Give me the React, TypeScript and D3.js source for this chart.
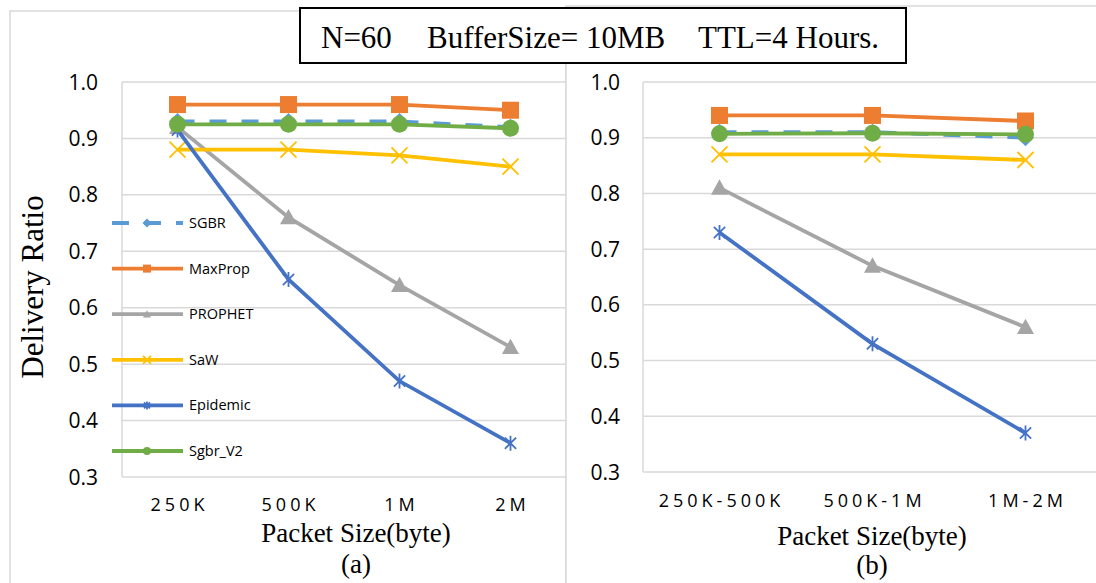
import React, { useEffect, useRef } from "react";
import * as d3 from "d3";

// categories
const catsA = ["250K", "500K", "1M", "2M"];
const catsB = ["250K-500K", "500K-1M", "1M-2M"];
const yTicks = [0.3, 0.4, 0.5, 0.6, 0.7, 0.8, 0.9, 1.0];
const seriesNames = ["SGBR", "MaxProp", "PROPHET", "SaW", "Epidemic", "Sgbr_V2"];

// panel (a) values
const sgbrA = [0.93, 0.93, 0.93, 0.92];
const maxPropA = [0.96, 0.96, 0.96, 0.95];
const prophetA = [0.92, 0.76, 0.64, 0.53];
const sawA = [0.88, 0.88, 0.87, 0.85];
const epidemicA = [0.915, 0.65, 0.47, 0.36];
const sgbrV2A = [0.925, 0.925, 0.925, 0.918];

// panel (b) values
const sgbrB = [0.91, 0.91, 0.9];
const maxPropB = [0.94, 0.94, 0.93];
const prophetB = [0.81, 0.67, 0.56];
const sawB = [0.87, 0.87, 0.86];
const epidemicB = [0.73, 0.53, 0.37];
const sgbrV2B = [0.907, 0.908, 0.906];

// styles per series (same order as seriesNames)
const colors = ["#5B9BD5", "#ED7D31", "#A5A5A5", "#FFC000", "#4472C4", "#70AD47"];
const markers = ["diamond", "square", "triangle", "x", "star", "circle"];

const GRID = "#d9d9d9";
const SANS = "'Open Sans', sans-serif";
const SERIF = "'Liberation Serif', 'Times New Roman', serif";
const LW = 3.8;

function drawMarker(g, type, x, y, color, s) {
  // s = marker size in px
  const h = s / 2;
  if (type === "square") {
    g.append("rect").attr("x", x - h).attr("y", y - h).attr("width", s).attr("height", s).attr("fill", color);
  } else if (type === "circle") {
    g.append("circle").attr("cx", x).attr("cy", y).attr("r", h).attr("fill", color);
  } else if (type === "triangle") {
    g.append("path").attr("d", `M${x},${y - h}L${x + h},${y + h * 0.8}L${x - h},${y + h * 0.8}Z`).attr("fill", color);
  } else if (type === "diamond") {
    g.append("path").attr("d", `M${x},${y - h}L${x + h},${y}L${x},${y + h}L${x - h},${y}Z`).attr("fill", color);
  } else if (type === "x") {
    g.append("path").attr("d", `M${x - h},${y - h}L${x + h},${y + h}M${x - h},${y + h}L${x + h},${y - h}`)
      .attr("stroke", color).attr("stroke-width", 1.8).attr("fill", "none");
  } else if (type === "star") {
    const k = h * 0.75;
    g.append("path").attr("d", `M${x - k},${y - k}L${x + k},${y + k}M${x - k},${y + k}L${x + k},${y - k}M${x},${y - h}L${x},${y + h}`)
      .attr("stroke", color).attr("stroke-width", 1.8).attr("fill", "none");
  }
}

function drawPanel(svg, cats, series, xRange, yRange, labelRight, tickBaseline) {
  const x = d3.scaleBand().domain(cats).range(xRange).paddingInner(0).paddingOuter(0);
  const y = d3.scaleLinear().domain([0.3, 1.0]).range(yRange);
  const cx = (c) => x(c) + x.bandwidth() / 2;
  const g = svg.append("g");

  // grid
  g.selectAll(".grid").data(yTicks).join("line")
    .attr("x1", xRange[0]).attr("x2", xRange[1])
    .attr("y1", (d) => y(d)).attr("y2", (d) => y(d))
    .attr("stroke", GRID).attr("stroke-width", 1.5);
  g.append("line").attr("x1", xRange[0]).attr("x2", xRange[0])
    .attr("y1", y(1.0)).attr("y2", y(0.3)).attr("stroke", GRID).attr("stroke-width", 1.5);

  // y tick labels
  g.selectAll(".ytl").data(yTicks).join("text")
    .attr("x", labelRight).attr("y", (d) => y(d) + 7.5)
    .attr("text-anchor", "end").attr("font-family", SANS).attr("font-size", 21).attr("fill", "#000")
    .text((d) => d3.format(".1f")(d));

  // x tick labels
  g.selectAll(".xtl").data(cats).join("text")
    .attr("x", (d) => cx(d) + 2).attr("y", tickBaseline)
    .attr("text-anchor", "middle").attr("font-family", SANS).attr("font-size", 18)
    .attr("letter-spacing", 4).attr("fill", "#000")
    .text((d) => d);

  const line = d3.line().x((d, i) => cx(cats[i])).y((d) => y(d));
  series.forEach((vals, si) => {
    const sg = g.append("g");
    sg.append("path").datum(vals).attr("d", line).attr("fill", "none")
      .attr("stroke", colors[si]).attr("stroke-width", LW)
      .attr("stroke-dasharray", si === 0 ? "17 15" : null);
    vals.forEach((v, i) => {
      const size = markers[si] === "x" ? 16 : markers[si] === "star" ? 15 : 17;
      drawMarker(sg, markers[si], cx(cats[i]), y(v), colors[si], size);
    });
  });
}

export default function App() {
  const ref = useRef(null);

  useEffect(() => {
    const svg = d3.select(ref.current);
    svg.selectAll("*").remove();

    // panel frames
    svg.append("rect").attr("x", 10).attr("y", 11).attr("width", 556).attr("height", 600)
      .attr("fill", "#fff").attr("stroke", GRID).attr("stroke-width", 1.5);
    svg.append("rect").attr("x", 566).attr("y", 6).attr("width", 540).attr("height", 600)
      .attr("fill", "#fff").attr("stroke", GRID).attr("stroke-width", 1.5);

    drawPanel(svg, catsA, [sgbrA, maxPropA, prophetA, sawA, epidemicA, sgbrV2A], [122, 566], [477, 82], 98, 511);
    drawPanel(svg, catsB, [sgbrB, maxPropB, prophetB, sawB, epidemicB, sgbrV2B], [643, 1102], [472, 82], 620, 507);

    // legend inside panel (a)
    const lg = svg.append("g");
    seriesNames.forEach((name, i) => {
      const ly = 223 + i * 45.6;
      lg.append("line").attr("x1", 112).attr("x2", 183).attr("y1", ly).attr("y2", ly)
        .attr("stroke", colors[i]).attr("stroke-width", LW)
        .attr("stroke-dasharray", i === 0 ? "17 15" : null);
      drawMarker(lg, markers[i], 147, ly, colors[i], markers[i] === "diamond" ? 9 : 8);
      lg.append("text").attr("x", 189).attr("y", ly + 5).attr("font-family", SANS)
        .attr("font-size", 14.5).attr("fill", "#000").text(name);
    });

    // axis titles
    svg.append("text").attr("transform", "translate(43,287) rotate(-90)")
      .attr("text-anchor", "middle").attr("font-family", SERIF).attr("font-size", 31).text("Delivery Ratio");
    svg.append("text").attr("x", 356).attr("y", 542).attr("text-anchor", "middle")
      .attr("font-family", SERIF).attr("font-size", 27).text("Packet Size(byte)");
    svg.append("text").attr("x", 356).attr("y", 573).attr("text-anchor", "middle")
      .attr("font-family", SERIF).attr("font-size", 27).text("(a)");
    svg.append("text").attr("x", 872).attr("y", 545).attr("text-anchor", "middle")
      .attr("font-family", SERIF).attr("font-size", 27).text("Packet Size(byte)");
    svg.append("text").attr("x", 872).attr("y", 574).attr("text-anchor", "middle")
      .attr("font-family", SERIF).attr("font-size", 27).text("(b)");

    // title box
    svg.append("rect").attr("x", 300).attr("y", 8).attr("width", 606).attr("height", 55)
      .attr("fill", "#fff").attr("stroke", "#000").attr("stroke-width", 2);
    const t = svg.append("text").attr("y", 48).attr("font-family", SERIF).attr("font-size", 31);
    t.append("tspan").attr("x", 321).text("N=60");
    t.append("tspan").attr("x", 427).text("BufferSize= 10MB");
    t.append("tspan").attr("x", 698).text("TTL=4 Hours.");
  }, []);

  return (
    <svg ref={ref} width={1096} height={583}
      style={{ position: "absolute", left: 0, top: 0, background: "#fff" }} />
  );
}
